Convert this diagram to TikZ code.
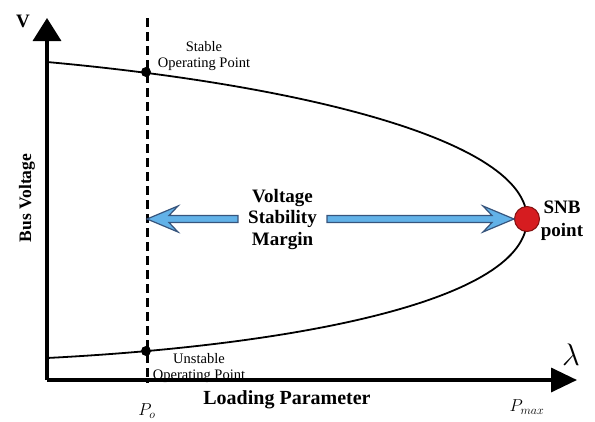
\documentclass[tikz,border=0pt]{standalone}
\usepackage{fontspec}
\setmainfont{Liberation Serif}
\usetikzlibrary{arrows.meta, calc}

\definecolor{marginblue}{RGB}{98,178,232}
\definecolor{marginedge}{RGB}{55,85,125}
\definecolor{snbred}{RGB}{214,28,32}
\definecolor{snbedge}{RGB}{130,15,15}

%% block arrow from #1 to the tip #2 (horizontal)
\newcommand{\marginarrow}[2]{%
  \filldraw[marginbar] let \p1=(#1), \p2=(#2), \n1={sign(\x2-\x1)} in
    (\x1,{\y1+3.5pt}) -- ({\x2-(\n1)*22pt},{\y1+3.5pt})
    -- ({\x2-(\n1)*31pt},{\y1+13pt}) -- (\x2,\y1)
    -- ({\x2-(\n1)*31pt},{\y1-13pt}) -- ({\x2-(\n1)*22pt},{\y1-3.5pt})
    -- (\x1,{\y1-3.5pt}) -- cycle;}

\begin{document}
\begin{tikzpicture}[x=1pt, y=-1pt,
  axis/.style={line width=3.5pt},
  curve/.style={line width=1.8pt},
  dashline/.style={line width=3pt, dash pattern=on 9pt off 5pt},
  opdot/.style={circle, fill=black, inner sep=0pt, minimum size=10pt},
  oplabel/.style={align=center, font=\fontsize{14.5}{16.5}\selectfont, inner sep=0pt},
  boldlabel/.style={align=center, font=\bfseries\fontsize{19}{21.5}\selectfont},
  marginbar/.style={fill=marginblue, draw=marginedge, line width=1.2pt, line join=miter}
]
\useasboundingbox (0,0) rectangle (595,421);

%% axes
\coordinate (origin) at (47,380);
\coordinate (vtip) at (47,18);
\coordinate (htip) at (577,380);
\draw[axis, -{Triangle[length=23pt,width=28pt]}] (origin) -- (vtip);
\draw[axis, -{Triangle[length=26pt,width=24pt]}] (origin) -- (htip);
\node[font=\bfseries\fontsize{19}{21}\selectfont] (vlabel) at (23,21) {V};
\node[font=\fontsize{24.88}{28}\selectfont] (lambda) at (571,355) {\scalebox{1.25}{$\lambda$}};
\node[font=\bfseries\fontsize{17.5}{20}\selectfont, rotate=90] (busv) at (27,198) {Bus Voltage};
\node[font=\bfseries\fontsize{20}{22}\selectfont] (loadp) at (287,400) {Loading Parameter};

%% operating load line
\coordinate (dtop) at (147,18);
\coordinate (dbot) at (147,383);
\draw[dashline] (dtop) -- (dbot);
\node[font=\fontsize{17}{19}\selectfont] (po) at (147,411) {$P_o$};
\node[font=\fontsize{17}{19}\selectfont] (pmax) at (527,407) {$P_{max}$};

%% PV curve
\coordinate (nose) at (527,219);
\draw[curve] (47,62) .. controls (300,85) and (527,140) .. (nose)
  .. controls (527,300) and (300,345) .. (47,358);

%% points
\node[opdot] (stable) at (146,72) {};
\node[opdot] (unstable) at (146,351) {};
\node[oplabel] (stablelbl) at (204,56) {Stable\\Operating Point};
\node[oplabel] (unstablelbl) at (199,368) {Unstable\\Operating Point};
\node[circle, fill=snbred, draw=snbedge, line width=1pt, minimum size=25pt, inner sep=0pt] (snb) at (nose) {};
\node[boldlabel, font=\bfseries\fontsize{19}{23}\selectfont] (snblbl) at (562,221) {SNB\\point};

%% margin
\node[boldlabel, inner xsep=10pt] (vsm) at (282.5,219) {Voltage\\Stability\\Margin};
\marginarrow{vsm.west}{vsm.west -| dtop}
\marginarrow{vsm.east}{snb.west}
\end{tikzpicture}
\end{document}
